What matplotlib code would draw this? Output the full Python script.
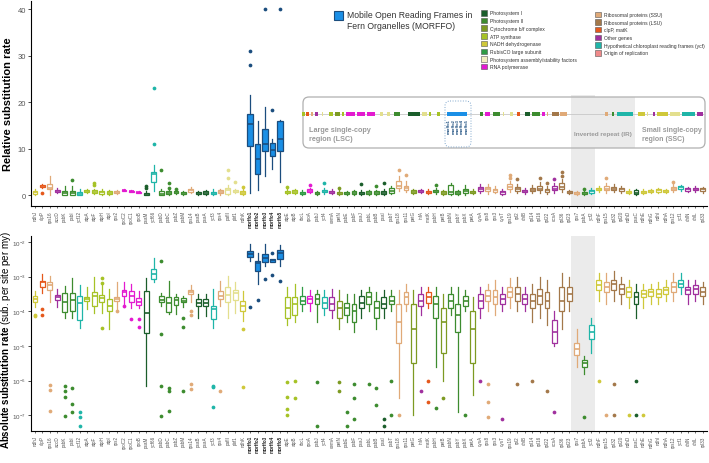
import matplotlib
matplotlib.use('Agg')
import matplotlib.pyplot as plt
import numpy as np
from matplotlib.patches import Rectangle, FancyBboxPatch
from matplotlib.ticker import NullLocator

# set font
plt.rcParams['font.family'] = ['Liberation Sans', 'DejaVu Sans']
plt.rcParams['mathtext.fontset'] = 'custom'
plt.rcParams['mathtext.rm'] = 'Liberation Sans'
plt.rcParams['mathtext.bf'] = 'Liberation Sans:bold'

# gene names and functional class
genes = ['ndhJ', 'clpP', 'rps16', 'accD', 'psbK', 'psbI', 'ycf12', 'atpA', 'atpF', 'atpH',
         'atpI', 'rps2', 'rpoC2', 'rpoC1', 'rpoB', 'psaM', 'ycf66', 'psbD', 'psbC', 'psbZ',
         'psbM', 'rps14', 'psaB', 'psaA', 'ycf3', 'rps4', 'pafII', 'pbf1', 'ndhK',
         'morffo1', 'morffo2', 'morffo3', 'morffo4', 'morffo5',
         'atpE', 'atpB', 'rbcL', 'rpoA', 'psbJ', 'ycf4', 'cemA', 'petN', 'psbE', 'psbF',
         'psaJ', 'psbL', 'psbB', 'psaI', 'psbT', 'rps18', 'rps11', 'petG', 'infA', 'matK',
         'psbH', 'petB', 'psbN', 'psbY', 'psbX', 'petA', 'cysA', 'rps8', 'rps3', 'cysT',
         'rps19', 'rpl2', 'chlB', 'rpl14', 'rpl16', 'rpl22', 'ccsA', 'rpl36', 'rpl23',
         'rps7', 'psbA', 'ycf2', 'ndhF', 'rps15', 'rpl32', 'rpl20', 'ndhD', 'psaC', 'ndhE',
         'ndhG', 'ndhI', 'ndhA', 'rps12', 'ycf1', 'chlN', 'chlL', 'rpl33']

cats = ['NDH', 'CLP', 'SSU', 'OTH', 'PSII', 'PSII', 'YCF', 'ATP', 'ATP', 'ATP',
        'ATP', 'SSU', 'RPO', 'RPO', 'RPO', 'PSI', 'YCF', 'PSII', 'PSII', 'PSII',
        'PSII', 'SSU', 'PSI', 'PSI', 'YCF', 'SSU', 'PAS', 'PAS', 'NDH',
        'MOR', 'MOR', 'MOR', 'MOR', 'MOR',
        'ATP', 'ATP', 'RBC', 'RPO', 'PSII', 'YCF', 'OTH', 'CYT', 'PSII', 'PSII',
        'PSI', 'PSII', 'PSII', 'PSI', 'PSII', 'SSU', 'SSU', 'CYT', 'OTH', 'CLP',
        'PSII', 'CYT', 'PSII', 'PSII', 'PSII', 'CYT', 'OTH', 'SSU', 'SSU', 'OTH',
        'SSU', 'LSU', 'OTH', 'LSU', 'LSU', 'LSU', 'OTH', 'LSU', 'LSU',
        'SSU', 'PSII', 'YCF', 'NDH', 'SSU', 'LSU', 'LSU', 'NDH', 'PSI', 'NDH',
        'NDH', 'NDH', 'NDH', 'SSU', 'YCF', 'OTH', 'OTH', 'LSU']

# relative substitution rate: [whisker low, q1, median, q3, whisker high]
rel_box = [
    [0, 0.3, 0.6, 0.9, 1.3], [1.6, 1.8, 2.0, 2.2, 2.4], [0, 1.2, 1.6, 2.3, 4.0], [0.4, 0.6, 0.8, 1.1, 1.5],
    [0, 0.1, 0.4, 0.8, 2.0], [0, 0.1, 0.4, 0.9, 2.0], [0, 0.05, 0.3, 0.7, 1.2], [0.4, 0.6, 0.8, 1.0, 1.3],
    [0.3, 0.5, 0.7, 1.0, 1.4], [0.1, 0.3, 0.6, 0.9, 1.3], [0.1, 0.3, 0.5, 0.8, 1.1], [0.3, 0.5, 0.7, 0.9, 1.1],
    [0.8, 0.9, 1.0, 1.1, 1.2], [0.6, 0.7, 0.8, 0.9, 1.0], [0.4, 0.5, 0.6, 0.7, 0.8], [0, 0.02, 0.1, 0.4, 0.9],
    [0.8, 2.8, 4.5, 5.0, 6.5], [0, 0.05, 0.3, 0.8, 1.2], [0.1, 0.2, 0.5, 0.8, 1.1], [0.3, 0.5, 0.6, 0.9, 1.1],
    [0.1, 0.3, 0.5, 0.7, 0.9], [0.4, 0.7, 1.0, 1.4, 1.7], [0.1, 0.3, 0.5, 0.7, 0.9], [0.1, 0.3, 0.5, 0.8, 1.0],
    [0, 0.2, 0.4, 0.7, 1.3], [0, 0.4, 0.7, 1.0, 1.4], [0.1, 0.3, 1.0, 1.5, 2.2], [0.5, 0.7, 0.85, 1.0, 1.2],
    [0, 0.2, 0.5, 0.9, 1.3],
    [0.5, 10.5, 15.3, 17.5, 21.5], [1, 4.5, 7.8, 11, 16], [4, 9.5, 11, 14.3, 19], [5.5, 8.3, 9.8, 11.3, 12],
    [2.7, 9.5, 12, 16, 16.2],
    [0.2, 0.4, 0.6, 0.9, 1.3], [0.3, 0.5, 0.7, 1.0, 1.4], [0, 0.2, 0.4, 0.6, 1.0], [0.5, 0.7, 0.9, 1.2, 1.6],
    [0, 0.2, 0.4, 0.6, 0.9], [0.3, 0.6, 0.9, 1.1, 1.5], [0.2, 0.4, 0.6, 0.9, 1.2], [0.1, 0.3, 0.5, 0.7, 1.0],
    [0, 0.2, 0.4, 0.6, 0.9], [0.1, 0.3, 0.5, 0.8, 1.1], [0, 0.2, 0.4, 0.7, 1.0], [0, 0.3, 0.5, 0.8, 1.1],
    [0.1, 0.3, 0.5, 0.8, 1.0], [0, 0.3, 0.5, 0.9, 1.2], [0.2, 0.5, 0.9, 1.5, 2.0], [0.9, 1.5, 2.0, 3.0, 4.0],
    [0.6, 1.0, 1.5, 2.0, 3.0], [0.2, 0.5, 0.7, 1.0, 1.3], [0.4, 0.6, 0.9, 1.1, 1.4], [0.3, 0.5, 0.7, 0.9, 1.2],
    [0.3, 0.6, 0.8, 1.0, 1.5], [0, 0.3, 0.5, 0.8, 1.1], [0.1, 0.3, 0.6, 2.2, 2.6], [0.1, 0.3, 0.5, 0.8, 1.1],
    [0, 0.5, 0.9, 1.4, 2.2], [0.2, 0.5, 0.7, 0.9, 1.2], [0.4, 0.8, 1.2, 1.7, 2.3], [0.3, 0.8, 1.3, 1.7, 2.4],
    [0.4, 0.7, 1.0, 1.4, 2.0], [0.1, 0.3, 0.6, 0.9, 1.2], [0.7, 1.3, 1.7, 2.3, 3.0], [0.5, 0.9, 1.2, 1.7, 2.4],
    [0.3, 0.6, 0.8, 1.1, 1.5], [0.4, 0.8, 1.1, 1.5, 2.1], [0.5, 1.0, 1.4, 2.0, 2.8], [0.3, 0.7, 1.0, 1.4, 2.0],
    [0.5, 1.0, 1.4, 2.0, 2.6], [0.6, 1.2, 1.8, 2.6, 3.4], [0.2, 0.4, 0.6, 0.8, 1.1], [0.1, 0.3, 0.5, 0.7, 0.9],
    [0.1, 0.3, 0.5, 0.7, 0.9], [0.2, 0.5, 0.8, 1.1, 1.5], [0.6, 1.0, 1.3, 1.6, 2.0], [0.5, 1.0, 1.4, 1.9, 2.5],
    [0.6, 1.0, 1.4, 1.8, 2.4], [0.5, 0.9, 1.2, 1.5, 1.9], [0.2, 0.5, 0.7, 0.9, 1.3], [0, 0.2, 0.5, 1.0, 1.4],
    [0.3, 0.5, 0.7, 0.9, 1.2], [0.4, 0.6, 0.8, 1.0, 1.3], [0.5, 0.7, 1.0, 1.2, 1.6], [0.4, 0.6, 0.9, 1.1, 1.4],
    [0.6, 1.0, 1.4, 1.8, 2.3], [0.8, 1.2, 1.7, 1.9, 2.1], [0.6, 0.9, 1.2, 1.5, 1.8], [0.6, 1.0, 1.3, 1.6, 1.9],
    [0.5, 0.9, 1.2, 1.5, 1.8]]
rel_out = [[], [0.4], [], [], [], [3.3], [], [], [2.2, 2.5], [], [], [], [], [], [], [1.5, 2.0],
           [11, 23], [5.4], [1.5, 2.6], [1.4], [], [], [], [], [], [], [3.7, 5.4], [2.7], [1.8],
           [28, 31], [], [40], [18.4], [40],
           [1.8], [], [], [2.2], [], [2.6], [], [1.5], [], [], [2.4], [], [2.0], [2.6], [], [5.3],
           [4.3], [], [], [], [2.2], [], [], [], [], [], [], [], [], [], [3.6, 4.3], [3.4],
           [], [], [3.6], [2.6], [3.5], [4.2, 5.0], [], [], [1.3], [], [], [3.6], [], [], [], [],
           [], [], [], [], [2.9], [], [], [], []]

# absolute substitution rate, log10 values: [whisker low, q1, median, q3, whisker high]
abs_box = [
    [-3.89, -3.72, -3.65, -3.55, -3.41], [-3.46, -3.31, -3.17, -3.12, -2.93], [-3.74, -3.39, -3.25, -3.15, -2.98],
    [-3.89, -3.67, -3.60, -3.53, -3.36], [-4.18, -4.01, -3.73, -3.48, -3.27], [-4.18, -3.98, -3.67, -3.48, -3.05],
    [-4.49, -4.25, -3.76, -3.55, -3.25], [-3.94, -3.70, -3.65, -3.58, -3.31], [-4.05, -3.86, -3.55, -3.44, -3.01],
    [-4.05, -3.73, -3.63, -3.53, -3.22], [-4.51, -3.98, -3.84, -3.65, -3.36], [-3.94, -3.70, -3.65, -3.60, -3.15],
    [-3.89, -3.55, -3.44, -3.39, -3.17], [-3.90, -3.73, -3.55, -3.41, -3.22], [-3.90, -3.82, -3.73, -3.63, -3.41],
    [-6.14, -4.63, -4.05, -3.41, -3.03], [-3.17, -3.07, -2.93, -2.77, -2.45], [-3.86, -3.74, -3.67, -3.55, -3.48],
    [-4.08, -4.01, -3.76, -3.60, -3.12], [-4.08, -3.82, -3.67, -3.60, -3.51], [-3.89, -3.74, -3.70, -3.63, -3.55],
    [-3.74, -3.51, -3.44, -3.39, -3.25], [-4.18, -3.86, -3.76, -3.65, -3.51], [-4.15, -3.84, -3.76, -3.65, -3.51],
    [-4.49, -4.22, -3.92, -3.84, -3.36], [-3.86, -3.65, -3.55, -3.41, -3.12], [-4.18, -3.74, -3.53, -3.31, -2.98],
    [-4.05, -3.67, -3.48, -3.39, -3.15], [-4.27, -3.98, -3.86, -3.70, -3.41],
    [-2.55, -2.43, -2.34, -2.26, -2.07], [-3.22, -2.83, -2.60, -2.55, -2.33], [-2.69, -2.57, -2.47, -2.35, -2.07],
    [-2.59, -2.59, -2.53, -2.48, -2.48], [-2.69, -2.48, -2.31, -2.23, -2.10],
    [-4.4, -4.2, -3.9, -3.6, -3.3], [-4.3, -4.1, -3.8, -3.6, -3.2], [-4.0, -3.8, -3.7, -3.55, -3.3],
    [-4.0, -3.75, -3.65, -3.55, -3.4], [-4.3, -3.8, -3.65, -3.5, -3.4], [-4.1, -3.9, -3.75, -3.6, -3.4],
    [-4.2, -3.95, -3.8, -3.6, -3.35], [-4.5, -4.2, -3.9, -3.7, -3.4], [-4.3, -4.1, -3.9, -3.75, -3.5],
    [-4.6, -4.3, -4.0, -3.8, -3.5], [-4.2, -3.9, -3.75, -3.55, -3.4], [-4.0, -3.8, -3.6, -3.45, -3.3],
    [-4.5, -4.2, -3.9, -3.7, -3.45], [-4.2, -3.9, -3.8, -3.6, -3.4], [-4.0, -3.8, -3.7, -3.55, -3.4],
    [-6.5, -4.9, -4.3, -3.8, -3.4], [-4.0, -3.8, -3.6, -3.45, -3.2], [-7.0, -5.5, -4.5, -3.8, -3.4],
    [-4.1, -3.85, -3.7, -3.5, -3.3], [-3.9, -3.75, -3.6, -3.45, -3.3], [-5.6, -4.2, -3.8, -3.55, -3.3],
    [-6.0, -5.2, -4.3, -3.9, -3.5], [-4.1, -3.9, -3.7, -3.5, -3.3], [-6.9, -4.6, -4.1, -3.8, -3.3],
    [-4.0, -3.85, -3.7, -3.55, -3.4], [-6.4, -5.5, -4.5, -4.0, -3.6], [-4.2, -3.9, -3.7, -3.5, -3.3],
    [-4.0, -3.7, -3.55, -3.4, -3.2], [-4.1, -3.8, -3.6, -3.4, -3.1], [-4.0, -3.8, -3.65, -3.5, -3.3],
    [-3.9, -3.6, -3.45, -3.3, -3.05], [-4.0, -3.7, -3.5, -3.3, -3.0], [-4.0, -3.8, -3.65, -3.5, -3.3],
    [-4.3, -3.9, -3.7, -3.5, -3.2], [-4.2, -3.8, -3.55, -3.35, -3.0], [-4.4, -3.9, -3.7, -3.45, -3.1],
    [-5.0, -4.9, -4.6, -4.25, -4.0], [-4.5, -4.0, -3.7, -3.3, -2.9], [-4.0, -3.7, -3.5, -3.3, -3.0],
    [-5.6, -5.25, -5.1, -4.9, -4.5], [-5.8, -5.6, -5.5, -5.4, -5.3], [-5.2, -4.8, -4.6, -4.4, -4.2],
    [-3.7, -3.4, -3.25, -3.1, -2.9], [-3.8, -3.45, -3.3, -3.15, -2.9], [-3.7, -3.4, -3.2, -3.1, -2.85],
    [-3.8, -3.5, -3.35, -3.2, -3.0], [-3.9, -3.6, -3.45, -3.3, -3.1], [-4.2, -3.8, -3.6, -3.45, -3.2],
    [-3.9, -3.6, -3.5, -3.4, -3.2], [-3.8, -3.55, -3.45, -3.35, -3.2], [-3.8, -3.6, -3.5, -3.35, -3.15],
    [-3.7, -3.5, -3.4, -3.3, -3.1], [-3.7, -3.45, -3.3, -3.15, -2.9], [-3.5, -3.3, -3.2, -3.1, -2.9],
    [-3.8, -3.5, -3.4, -3.3, -3.1], [-3.7, -3.5, -3.35, -3.25, -3.1], [-3.8, -3.55, -3.45, -3.3, -3.15]]
abs_out = [[-4.11, -4.15], [-3.92, -4.11], [-6.11, -6.27, -6.86], [], [-6.16, -6.29, -6.48, -7.02],
           [-6.22, -6.67, -6.91], [-6.91, -7.05, -7.3], [], [], [-3.03, -3.19, -4.49], [], [-3.98],
           [-3.86], [-4.22], [-4.22, -4.44], [], [], [-2.55, -4.66, -6.14, -7.03], [-6.22, -6.31, -6.88],
           [], [-4.18, -4.44, -6.30], [-3.98, -4.11, -6.09, -6.24], [], [], [-6.14, -6.19, -6.77],
           [-6.29], [], [], [-4.51, -6.19],
           [-3.89], [-3.67], [-3.07], [-2.33, -2.95], [-3.12],
           [-6.04, -6.47, -6.82, -7.0], [-6.0, -6.5], [], [], [-6.05, -7.3], [], [], [-6.05, -6.3],
           [-6.9, -7.3], [-6.1, -6.5, -7.1], [], [-6.1], [-6.2, -6.7], [-7.1, -7.3], [-6.0, -7.0],
           [-7.0], [], [], [-6.3], [-6.0, -6.6], [-6.8], [-6.5], [], [], [-7.0], [], [-6.0],
           [-6.1, -6.6, -7.05], [], [-7.1], [], [-6.1], [], [-6.0], [], [-6.3], [-6.9], [], [],
           [], [-7.05], [], [-6.0], [-7.0], [-6.1, -7.0], [], [-7.0], [-6.0, -7.0], [-7.0], [], [],
           [], [], [], [], [], []]

# legend classes
classes = ['PSI', 'PSII', 'CYT', 'ATP', 'NDH', 'RBC', 'PAS', 'RPO',
           'SSU', 'LSU', 'CLP', 'OTH', 'YCF', 'ORI']
class_names = ['Photosystem I', 'Photosystem II', 'Cytochrome b/f complex', 'ATP synthase',
               'NADH dehydrogenase', 'RubisCO large subunit', 'Photosystem assembly/stability factors',
               'RNA polymerase', 'Ribosomal proteins (SSU)', 'Ribosomal proteins (LSU)', 'clpP, matK',
               'Other genes', 'Hypothetical chloroplast reading frames (ycf)', 'Origin of replication']
class_colors = ['#1b5e2b', '#3d8c2f', '#7d9a22', '#a6c226', '#cfc83a', '#2f9b44', '#f3f0c0',
                '#e31ad0', '#e0aa78', '#a3784a', '#e5581c', '#a0309e', '#1fb5a8', '#f08a8a']
col = dict(zip(classes, class_colors))
col['PAS'] = '#e3df8e'
col['MOR'] = '#1b4d7e'
morffo_fill = '#1a8fe6'

# plastome map strip (pixel positions along the map box)
strip_start = [302, 306, 311, 315, 322, 329, 335, 342, 346, 357, 367, 380, 387, 394, 408, 422, 429,
               437, 447, 480, 485, 493, 503, 510, 517, 525, 532, 542, 547, 552, 560, 605, 612, 617,
               638, 647, 653, 657, 670, 682, 697]
strip_end = [305, 309, 313, 318, 323, 333, 340, 344, 355, 365, 375, 383, 390, 400, 420, 427, 431,
             440, 467, 483, 490, 500, 504, 513, 520, 530, 540, 545, 548, 559, 567, 608, 614, 633,
             645, 648, 655, 668, 680, 695, 703]
strip_cat = ['ATP', 'CLP', 'SSU', 'OTH', 'PAS', 'ATP', 'CYT', 'ATP', 'RPO', 'RPO', 'RPO', 'PAS',
             'PAS', 'PSII', 'PSI', 'PAS', 'ATP', 'ATP', 'MORF', 'PSII', 'RPO', 'PSII', 'PAS', 'PAS',
             'CLP', 'PSI', 'PSII', 'RPO', 'SSU', 'LSU', 'SSU', 'SSU', 'PSII', 'YCF', 'NDH', 'PAS',
             'OTH', 'NDH', 'PAS', 'YCF', 'OTH']

n = len(genes)
W, H = 709, 464
fig = plt.figure(figsize=(W / 100, H / 100), dpi=100)
ax1 = fig.add_axes([31 / W, 1 - 207 / H, 676 / W, 205 / H])
ax2 = fig.add_axes([31 / W, 1 - 432 / H, 676 / W, 195 / H])


def draw_boxes(ax, box, out, log=False):
    for i in range(n):
        v = np.array(box[i], dtype=float)
        f = np.array(out[i], dtype=float)
        if log:
            v = 10 ** v
            f = 10 ** f
        st = dict(whislo=v[0], q1=v[1], med=v[2], q3=v[3], whishi=v[4], fliers=f)
        c = col[cats[i]]
        mor = cats[i] == 'MOR'
        face = morffo_fill if mor else 'white'
        ax.bxp([st], positions=[i], widths=0.78 if mor else 0.66, patch_artist=True,
               showcaps=False,
               boxprops=dict(facecolor=face, edgecolor=c, linewidth=0.9),
               medianprops=dict(color=c, linewidth=1.2),
               whiskerprops=dict(color=c, linewidth=0.9),
               flierprops=dict(marker='o', markerfacecolor=c if not mor else '#1b4d7e',
                               markeredgecolor='none', markersize=2.7))


draw_boxes(ax1, rel_box, rel_out)
draw_boxes(ax2, abs_box, abs_out, log=True)

# inverted repeat shading
ax1.axvspan(72.2, 75.5, ymin=0, ymax=0.54, color='#ebebeb', lw=0, zorder=0)
ax2.axvspan(72.2, 75.5, color='#ebebeb', lw=0, zorder=0)

for ax in (ax1, ax2):
    ax.set_xlim(-0.54, 90.57)
    ax.set_xticks(range(n))
    ax.set_xticklabels(genes, rotation=90, fontsize=3.3, color='#555555')
    for lab in ax.get_xticklabels():
        if lab.get_text().startswith('morffo'):
            lab.set_fontweight('bold')
            lab.set_color('#222222')
    ax.tick_params(axis='x', length=1.5, width=0.4, pad=1.5)
    ax.spines['top'].set_visible(False)
    ax.spines['right'].set_visible(False)
    ax.spines['left'].set_linewidth(0.8)
    ax.spines['bottom'].set_linewidth(0.8)

ax1.set_ylim(-2.37, 41.8)
ax1.set_yticks([0, 10, 20, 30, 40])
ax1.tick_params(axis='y', labelsize=5.5, labelcolor='#555555', length=2, width=0.5, pad=1.5)
ax1.set_ylabel('Relative substitution rate', fontsize=8, fontweight='bold')
ax1.yaxis.set_label_coords(-0.026, 0.5)

ax2.set_yscale('log')
ax2.set_ylim(10 ** -7.45, 10 ** -1.83)
ax2.set_yticks([10.0 ** -k for k in range(2, 8)])
ax2.yaxis.set_minor_locator(NullLocator())
ax2.tick_params(axis='y', labelsize=4.5, labelcolor='#555555', length=2, width=0.5, pad=1.5)
ax2.set_ylabel(r'$\bf{Absolute\ substitution\ rate}$ (sub. per site per my)', fontsize=7)
ax2.yaxis.set_label_coords(-0.026, 0.47)

# overlay in pixel units for legend and plastome map
ov = fig.add_axes([0, 0, 1, 1], zorder=5)
ov.set_xlim(0, W)
ov.set_ylim(H, 0)
ov.axis('off')
ov.patch.set_visible(False)

# MORFFO legend
ov.add_patch(Rectangle((334, 12), 9, 9, facecolor=morffo_fill, edgecolor='#1b4d7e', lw=0.8))
ov.text(347, 10.5, 'Mobile Open Reading Frames in\nFern Organelles (MORFFO)', fontsize=6.2,
        va='top', ha='left', color='#333333', linespacing=1.35)

# class legend
for k, (cl, name) in enumerate(zip(classes, class_names)):
    if k < 8:
        x0, y0 = 481, 11 + 7.7 * k
    else:
        x0, y0 = 595, 12.5 + 7.7 * (k - 8)
    ov.add_patch(Rectangle((x0, y0), 6, 5.5, facecolor=class_colors[k], edgecolor='#555555', lw=0.4))
    ov.text(x0 + 9, y0 + 2.9, name, fontsize=3.6, va='center', ha='left', color='#333333')

# plastome map box
ov.add_patch(Rectangle((571, 98), 64, 51, facecolor='#ebebeb', edgecolor='none', zorder=1))
ov.add_patch(FancyBboxPatch((303, 98), 402, 51, boxstyle='round,pad=0,rounding_size=6',
                            facecolor='none', edgecolor='#b0b0b0', lw=0.9, zorder=2))
ov.plot([303, 705], [115, 115], color='#c8c8c8', lw=0.6, zorder=2)
for s, e, c in zip(strip_start, strip_end, strip_cat):
    fc = morffo_fill if c == 'MORF' else col[c]
    ov.add_patch(Rectangle((s, 113.3), e - s, 3.4, facecolor=fc, edgecolor='none', zorder=3))
ov.add_patch(FancyBboxPatch((445, 102), 26, 46, boxstyle='round,pad=0,rounding_size=5',
                            facecolor='none', edgecolor='#7fa6cc', lw=0.7, ls=':', zorder=3))
for k in range(5):
    ov.text(449 + 4.4 * k, 119, 'morffo%d' % (k + 1), rotation=90, fontsize=2.9, va='top',
            ha='center', color='#1b4d7e', fontweight='bold', zorder=4)
ov.text(309, 127, 'Large single-copy\nregion (LSC)', fontsize=5.2, color='#9a9a9a',
        fontweight='bold', va='top', ha='left', linespacing=1.35, zorder=4)
ov.text(574, 135, 'Inverted repeat (IR)', fontsize=4.6, color='#9a9a9a',
        fontweight='bold', va='center', ha='left', zorder=4)
ov.text(642, 127, 'Small single-copy\nregion (SSC)', fontsize=5.0, color='#9a9a9a',
        fontweight='bold', va='top', ha='left', linespacing=1.35, zorder=4)

plt.savefig('out.png', dpi=100)
